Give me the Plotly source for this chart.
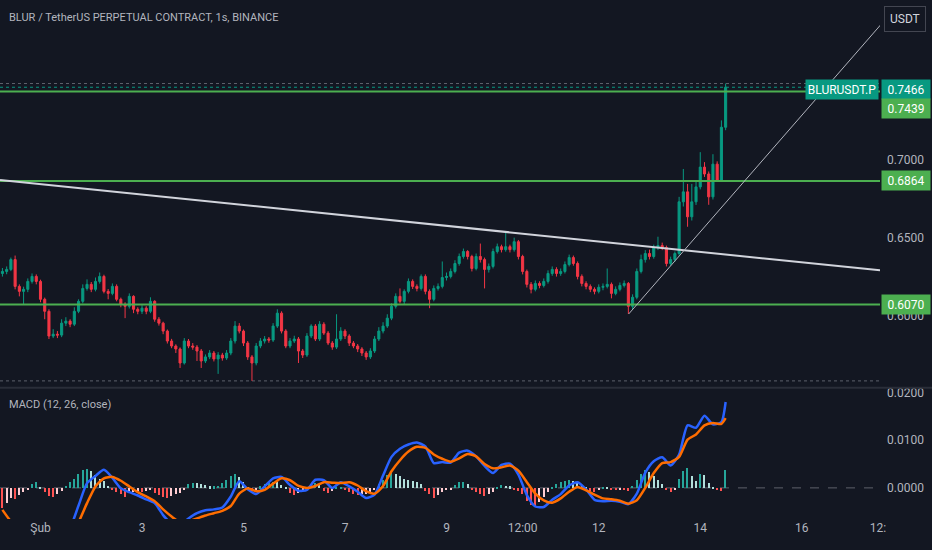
import pandas as pd
import plotly.graph_objects as go

# 2h candles, BLURUSDT.P
times = pd.date_range("2024-01-31 06:00", periods=172, freq="2h")

opens = [
    0.6270, 0.6283, 0.6296, 0.6359, 0.6187, 0.6155, 0.6168, 0.6219, 0.6251, 0.6219, 0.6104, 0.6027,
    0.5868, 0.5880, 0.5874, 0.5951, 0.5964, 0.5944, 0.6027, 0.6091, 0.6174, 0.6200, 0.6168, 0.6219,
    0.6251, 0.6155, 0.6142, 0.6187, 0.6104, 0.6072, 0.6059, 0.6123, 0.6040, 0.6027, 0.6047, 0.6027,
    0.6091, 0.5976, 0.5951, 0.5900, 0.5836, 0.5804, 0.5785, 0.5695, 0.5836, 0.5804, 0.5797, 0.5772,
    0.5708, 0.5734, 0.5759, 0.5721, 0.5746, 0.5727, 0.5759, 0.5836, 0.5932, 0.5900, 0.5823, 0.5734,
    0.5695, 0.5804, 0.5836, 0.5849, 0.5842, 0.5932, 0.6015, 0.5900, 0.5804, 0.5836, 0.5849, 0.5772,
    0.5746, 0.5868, 0.5932, 0.5849, 0.5944, 0.5887, 0.5823, 0.5797, 0.5849, 0.5900, 0.5868, 0.5823,
    0.5804, 0.5785, 0.5759, 0.5734, 0.5772, 0.5849, 0.5900, 0.5932, 0.5983, 0.6059, 0.6123, 0.6091,
    0.6155, 0.6219, 0.6187, 0.6174, 0.6251, 0.6155, 0.6104, 0.6174, 0.6187, 0.6244, 0.6251, 0.6283,
    0.6334, 0.6379, 0.6411, 0.6379, 0.6302, 0.6379, 0.6359, 0.6296, 0.6315, 0.6411, 0.6442, 0.6423,
    0.6442, 0.6423, 0.6474, 0.6379, 0.6283, 0.6200, 0.6168, 0.6206, 0.6193, 0.6219, 0.6270, 0.6296,
    0.6270, 0.6283, 0.6327, 0.6372, 0.6334, 0.6251, 0.6206, 0.6187, 0.6168, 0.6155, 0.6181, 0.6187,
    0.6200, 0.6142, 0.6168, 0.6193, 0.6206, 0.6059, 0.6117, 0.6283, 0.6359, 0.6398, 0.6379, 0.6436,
    0.6449, 0.6436, 0.6334, 0.6359, 0.6398, 0.6730, 0.6794, 0.6634, 0.6730, 0.6826, 0.6953, 0.6909,
    0.6762, 0.6972, 0.6870, 0.7209,
]
highs = [
    0.6305, 0.6315, 0.6372, 0.6385, 0.6200, 0.6185, 0.6238, 0.6270, 0.6264, 0.6230, 0.6115, 0.6040,
    0.5912, 0.5900, 0.5976, 0.5989, 0.5976, 0.6053, 0.6104, 0.6200, 0.6232, 0.6215, 0.6244, 0.6276,
    0.6262, 0.6170, 0.6206, 0.6200, 0.6115, 0.6085, 0.6142, 0.6130, 0.6053, 0.6066, 0.6060, 0.6117,
    0.6098, 0.5990, 0.5960, 0.5910, 0.5850, 0.5815, 0.5795, 0.5855, 0.5849, 0.5823, 0.5810, 0.5785,
    0.5750, 0.5778, 0.5772, 0.5765, 0.5760, 0.5778, 0.5855, 0.5964, 0.5951, 0.5910, 0.5836, 0.5746,
    0.5823, 0.5855, 0.5868, 0.5862, 0.5951, 0.6040, 0.6027, 0.5912, 0.5855, 0.5870, 0.5862, 0.5785,
    0.5887, 0.5944, 0.5945, 0.5964, 0.5957, 0.5900, 0.5836, 0.6008, 0.5925, 0.5912, 0.5880, 0.5836,
    0.5817, 0.5797, 0.5772, 0.5790, 0.5868, 0.5925, 0.5957, 0.6008, 0.6078, 0.6142, 0.6174, 0.6168,
    0.6238, 0.6232, 0.6200, 0.6264, 0.6264, 0.6168, 0.6193, 0.6206, 0.6347, 0.6276, 0.6302, 0.6355,
    0.6398, 0.6430, 0.6420, 0.6390, 0.6398, 0.6462, 0.6372, 0.6334, 0.6430, 0.6462, 0.6455, 0.6538,
    0.6455, 0.6500, 0.6485, 0.6390, 0.6295, 0.6215, 0.6225, 0.6220, 0.6238, 0.6290, 0.6315, 0.6310,
    0.6302, 0.6347, 0.6391, 0.6385, 0.6347, 0.6264, 0.6220, 0.6200, 0.6181, 0.6200, 0.6206, 0.6302,
    0.6212, 0.6187, 0.6212, 0.6225, 0.6215, 0.6136, 0.6302, 0.6391, 0.6420, 0.6423, 0.6455, 0.6506,
    0.6468, 0.6449, 0.6378, 0.6411, 0.6762, 0.6941, 0.6845, 0.6845, 0.6870, 0.7049, 0.6985, 0.6925,
    0.7036, 0.6990, 0.7253, 0.7490,
]
lows = [
    0.6250, 0.6265, 0.6285, 0.6168, 0.6123, 0.6072, 0.6150, 0.6205, 0.6200, 0.6085, 0.5976, 0.5849,
    0.5855, 0.5855, 0.5861, 0.5932, 0.5925, 0.5932, 0.6015, 0.6078, 0.6160, 0.6150, 0.6155, 0.6205,
    0.6142, 0.6104, 0.6130, 0.6091, 0.6053, 0.5983, 0.6045, 0.6015, 0.6008, 0.6010, 0.6008, 0.6015,
    0.5960, 0.5935, 0.5880, 0.5820, 0.5790, 0.5759, 0.5663, 0.5685, 0.5790, 0.5780, 0.5708, 0.5663,
    0.5695, 0.5720, 0.5705, 0.5625, 0.5710, 0.5715, 0.5745, 0.5820, 0.5885, 0.5804, 0.5715, 0.5580,
    0.5680, 0.5790, 0.5820, 0.5825, 0.5830, 0.5920, 0.5885, 0.5790, 0.5790, 0.5823, 0.5695, 0.5727,
    0.5734, 0.5855, 0.5836, 0.5836, 0.5875, 0.5810, 0.5780, 0.5785, 0.5836, 0.5849, 0.5804, 0.5790,
    0.5765, 0.5740, 0.5715, 0.5721, 0.5759, 0.5836, 0.5885, 0.5920, 0.5970, 0.6045, 0.6078, 0.6072,
    0.6142, 0.6170, 0.6155, 0.6160, 0.6136, 0.6047, 0.6091, 0.6160, 0.6174, 0.6225, 0.6238, 0.6270,
    0.6320, 0.6365, 0.6360, 0.6283, 0.6290, 0.6340, 0.6174, 0.6276, 0.6302, 0.6398, 0.6405, 0.6410,
    0.6405, 0.6410, 0.6360, 0.6264, 0.6180, 0.6142, 0.6155, 0.6175, 0.6180, 0.6205, 0.6255, 0.6250,
    0.6255, 0.6270, 0.6315, 0.6320, 0.6232, 0.6187, 0.6168, 0.6150, 0.6136, 0.6142, 0.6162, 0.6174,
    0.6110, 0.6130, 0.6155, 0.6180, 0.6010, 0.6040, 0.6104, 0.6270, 0.6340, 0.6360, 0.6365, 0.6420,
    0.6420, 0.6315, 0.6320, 0.6345, 0.6385, 0.6700, 0.6570, 0.6610, 0.6710, 0.6810, 0.6890, 0.6711,
    0.6745, 0.6858, 0.6858, 0.7190,
]
closes = [
    0.6283, 0.6296, 0.6359, 0.6187, 0.6155, 0.6168, 0.6219, 0.6251, 0.6219, 0.6104, 0.6027, 0.5868,
    0.5880, 0.5874, 0.5951, 0.5964, 0.5944, 0.6027, 0.6091, 0.6174, 0.6200, 0.6168, 0.6219, 0.6251,
    0.6155, 0.6142, 0.6187, 0.6104, 0.6072, 0.6059, 0.6123, 0.6040, 0.6027, 0.6047, 0.6027, 0.6091,
    0.5976, 0.5951, 0.5900, 0.5836, 0.5804, 0.5785, 0.5695, 0.5836, 0.5804, 0.5797, 0.5772, 0.5708,
    0.5734, 0.5759, 0.5721, 0.5746, 0.5727, 0.5759, 0.5836, 0.5932, 0.5900, 0.5823, 0.5734, 0.5695,
    0.5804, 0.5836, 0.5849, 0.5842, 0.5932, 0.6015, 0.5900, 0.5804, 0.5836, 0.5849, 0.5772, 0.5746,
    0.5868, 0.5932, 0.5849, 0.5944, 0.5887, 0.5823, 0.5797, 0.5849, 0.5900, 0.5868, 0.5823, 0.5804,
    0.5785, 0.5759, 0.5734, 0.5772, 0.5849, 0.5900, 0.5932, 0.5983, 0.6059, 0.6123, 0.6091, 0.6155,
    0.6219, 0.6187, 0.6174, 0.6251, 0.6155, 0.6104, 0.6174, 0.6187, 0.6244, 0.6251, 0.6283, 0.6334,
    0.6379, 0.6411, 0.6379, 0.6302, 0.6379, 0.6359, 0.6296, 0.6315, 0.6411, 0.6442, 0.6423, 0.6442,
    0.6423, 0.6474, 0.6379, 0.6283, 0.6200, 0.6168, 0.6206, 0.6193, 0.6219, 0.6270, 0.6296, 0.6270,
    0.6283, 0.6327, 0.6372, 0.6334, 0.6251, 0.6206, 0.6187, 0.6168, 0.6155, 0.6181, 0.6187, 0.6200,
    0.6142, 0.6168, 0.6193, 0.6206, 0.6059, 0.6117, 0.6283, 0.6359, 0.6398, 0.6379, 0.6436, 0.6449,
    0.6436, 0.6334, 0.6359, 0.6398, 0.6730, 0.6794, 0.6634, 0.6730, 0.6826, 0.6953, 0.6909, 0.6762,
    0.6972, 0.6870, 0.7209, 0.7466,
]

# MACD (12, 26, close) histogram, one bar per candle
macd_hist = [
    -0.0042, -0.0032, -0.0020, -0.0022, -0.0015, -0.0008, -0.0003, 0.0008, 0.0012, 0.0002, -0.0008, -0.0016,
    -0.0019, -0.0012, -0.0005, 0.0005, 0.0012, 0.0020, 0.0030, 0.0038, 0.0041, 0.0035, 0.0028, 0.0020,
    0.0014, 0.0005, -0.0003, -0.0008, -0.0012, -0.0018, -0.0010, -0.0008, -0.0006, -0.0009, -0.0006, -0.0004,
    -0.0010, -0.0014, -0.0018, -0.0020, -0.0017, -0.0012, -0.0010, -0.0003, 0.0008, 0.0011, 0.0010, 0.0009,
    0.0007, 0.0004, 0.0004, 0.0005, 0.0010, 0.0018, 0.0025, 0.0030, 0.0024, 0.0012, 0.0002, -0.0006,
    -0.0004, 0.0004, 0.0008, 0.0011, 0.0013, 0.0012, 0.0007, 0.0002, -0.0010, -0.0015, -0.0010, -0.0006,
    0.0003, 0.0008, 0.0010, 0.0006, -0.0005, -0.0010, -0.0006, 0.0002, 0.0003, -0.0004, -0.0008, -0.0012,
    -0.0014, -0.0013, -0.0012, -0.0008, -0.0003, 0.0008, 0.0018, 0.0027, 0.0033, 0.0030, 0.0025, 0.0020,
    0.0018, 0.0015, 0.0012, 0.0008, -0.0005, -0.0012, -0.0020, -0.0014, -0.0008, -0.0004, -0.0002, 0.0006,
    0.0012, 0.0013, 0.0008, -0.0004, -0.0008, -0.0013, -0.0017, -0.0012, -0.0008, 0.0003, 0.0006, 0.0005,
    0.0004, -0.0002, -0.0005, -0.0012, -0.0026, -0.0036, -0.0040, -0.0030, -0.0018, -0.0008, 0.0003, 0.0008,
    0.0012, 0.0014, 0.0016, 0.0014, 0.0010, 0.0005, 0.0002, -0.0005, -0.0008, -0.0004, 0.0003, 0.0002,
    -0.0003, -0.0004, -0.0002, -0.0003, -0.0007, 0.0005, 0.0018, 0.0030, 0.0037, 0.0033, 0.0025, 0.0016,
    0.0008, -0.0004, -0.0008, -0.0004, 0.0020, 0.0035, 0.0042, 0.0025, 0.0014, 0.0030, 0.0028, 0.0010,
    0.0003, -0.0004, -0.0006, 0.0037,
]

# MACD and signal lines, read every second candle plus the last one
line_idx = list(range(0, 172, 2)) + [171]
macd_line = [
    -0.0088, -0.0095, -0.0100, -0.0095, -0.0095, -0.0108, -0.0118, -0.0112, -0.0085, -0.0037,
    0.0010, 0.0025, 0.0038, 0.0021, -0.0001, -0.0009, -0.0016, -0.0024, -0.0032, -0.0057,
    -0.0075, -0.0078, -0.0064, -0.0053, -0.0047, -0.0045, -0.0041, -0.0018, 0.0014, -0.0003,
    -0.0013, 0.0003, 0.0020, 0.0023, 0.0006, -0.0006, -0.0004, 0.0017, 0.0016, 0.0000,
    0.0012, 0.0003, -0.0008, -0.0021, -0.0014, 0.0026, 0.0065, 0.0082, 0.0091, 0.0095,
    0.0087, 0.0052, 0.0054, 0.0053, 0.0074, 0.0078, 0.0066, 0.0046, 0.0031, 0.0048,
    0.0051, 0.0028, -0.0015, -0.0039, -0.0040, -0.0025, -0.0013, 0.0005, 0.0012, -0.0003,
    -0.0025, -0.0028, -0.0027, -0.0029, -0.0034, -0.0012, 0.0032, 0.0056, 0.0064, 0.0047,
    0.0070, 0.0131, 0.0126, 0.0151, 0.0133, 0.0138, 0.0180,
]
signal_line = [
    -0.0046, -0.0070, -0.0085, -0.0093, -0.0098, -0.0102, -0.0108, -0.0110, -0.0102, -0.0072,
    -0.0032, 0.0003, 0.0020, 0.0023, 0.0015, 0.0003, -0.0009, -0.0018, -0.0028, -0.0045,
    -0.0060, -0.0072, -0.0070, -0.0064, -0.0058, -0.0053, -0.0048, -0.0038, -0.0012, -0.0001,
    -0.0007, -0.0004, 0.0009, 0.0020, 0.0016, 0.0004, 0.0000, 0.0004, 0.0012, 0.0011,
    0.0010, 0.0012, 0.0005, -0.0007, -0.0012, 0.0004, 0.0035, 0.0058, 0.0076, 0.0086,
    0.0084, 0.0070, 0.0061, 0.0055, 0.0062, 0.0071, 0.0066, 0.0050, 0.0041, 0.0043,
    0.0047, 0.0036, 0.0012, -0.0012, -0.0026, -0.0031, -0.0022, -0.0008, 0.0002, -0.0005,
    -0.0014, -0.0022, -0.0024, -0.0027, -0.0033, -0.0026, 0.0000, 0.0031, 0.0052, 0.0054,
    0.0065, 0.0101, 0.0112, 0.0131, 0.0136, 0.0134, 0.0146,
]

# drawings
levels = [0.7439, 0.6864, 0.6070]
trend_down = (["2024-01-31 04:51", "2024-02-17 13:00"], [0.6870, 0.6290])
trend_up = (["2024-02-12 14:10", "2024-02-17 13:50"], [0.6010, 0.7875])

price_ticks = [0.6000, 0.6500, 0.7000]
macd_ticks = [0.0000, 0.0100, 0.0200]
date_ticks = ["2024-02-01", "2024-02-03", "2024-02-05", "2024-02-07", "2024-02-09",
              "2024-02-10 12:00", "2024-02-12", "2024-02-14", "2024-02-16", "2024-02-17 12:00"]
date_labels = ["Şub", "3", "5", "7", "9", "12:00", "12", "14", "16", "12:"]

BG = "#131722"
TXT = "#B2B5BE"
UP = "#089981"
DOWN = "#F23645"
LVL = "#4CAF50"
FONT = "Roboto"

# histogram colours, TradingView style
hist_colors = []
prev = 0
for v in macd_hist:
    if v >= 0:
        hist_colors.append("#26A69A" if v >= prev else "#B2DFDB")
    else:
        hist_colors.append("#FF5252" if v <= prev else "#FFCDD2")
    prev = v

fig = go.Figure()
fig.add_trace(go.Candlestick(
    x=times, open=opens, high=highs, low=lows, close=closes,
    increasing=dict(line=dict(color=UP, width=1), fillcolor=UP),
    decreasing=dict(line=dict(color=DOWN, width=1), fillcolor=DOWN),
    whiskerwidth=0, hoverinfo="skip", xaxis="x", yaxis="y",
))
fig.add_trace(go.Bar(
    x=times, y=macd_hist, marker=dict(color=hist_colors, line=dict(width=0)),
    width=2.2e6, hoverinfo="skip", xaxis="x", yaxis="y2",
))
line_x = [times[i] for i in line_idx]
fig.add_trace(go.Scatter(x=line_x, y=macd_line, mode="lines",
                         line=dict(color="#2962FF", width=2.5, shape="spline", smoothing=0.6),
                         hoverinfo="skip", xaxis="x", yaxis="y2"))
fig.add_trace(go.Scatter(x=line_x, y=signal_line, mode="lines",
                         line=dict(color="#FF6D00", width=2.5, shape="spline", smoothing=0.6),
                         hoverinfo="skip", xaxis="x", yaxis="y2"))

shapes = []
# visible high / low and last price
for yv, col in [(max(highs), "#5D606B"), (min(lows), "#5D606B"), (closes[-1], UP)]:
    shapes.append(dict(type="line", xref="paper", x0=0, x1=1, yref="y", y0=yv, y1=yv,
                       line=dict(color=col, width=1, dash="dot"), layer="below"))
for lv in levels:
    shapes.append(dict(type="line", xref="paper", x0=0, x1=1, yref="y", y0=lv, y1=lv,
                       line=dict(color=LVL, width=2)))
shapes.append(dict(type="line", xref="x", yref="y", x0=trend_down[0][0], x1=trend_down[0][1],
                   y0=trend_down[1][0], y1=trend_down[1][1], line=dict(color="#D1D4DC", width=2)))
shapes.append(dict(type="line", xref="x", yref="y", x0=trend_up[0][0], x1=trend_up[0][1],
                   y0=trend_up[1][0], y1=trend_up[1][1], line=dict(color="#B2B5BE", width=1)))
shapes.append(dict(type="line", xref="paper", x0=0, x1=1, yref="y2", y0=0, y1=0,
                   line=dict(color="#5D606B", width=1, dash="dash"), layer="below"))
# pane separator
shapes.append(dict(type="line", xref="paper", x0=0, x1=1.06, yref="paper", y0=0.2543, y1=0.2543,
                   line=dict(color="#2A2E39", width=2)))

annotations = [
    dict(text="BLUR / TetherUS PERPETUAL CONTRACT, 1s, BINANCE", xref="paper", yref="paper",
         x=0.008, y=0.971, xanchor="left", yanchor="middle", showarrow=False,
         font=dict(family=FONT, size=11, color=TXT)),
    dict(text="MACD (12, 26, close)", xref="paper", yref="paper",
         x=0.008, y=0.2216, xanchor="left", yanchor="middle", showarrow=False,
         font=dict(family=FONT, size=11, color=TXT)),
    dict(text="USDT", xref="paper", yref="paper", x=1.0285, y=0.969, xanchor="center",
         yanchor="middle", showarrow=False, bgcolor=BG, bordercolor="#434651", borderwidth=1,
         borderpad=5, font=dict(family=FONT, size=12, color="#D1D4DC")),
    dict(text="BLURUSDT.P", xref="paper", yref="y", x=1, y=closes[-1], xanchor="right",
         yanchor="middle", xshift=-1, yshift=-2, showarrow=False, bgcolor=UP, width=70, height=17,
         font=dict(family=FONT, size=12, color="white")),
    dict(text=f"{closes[-1]:.4f}", xref="paper", yref="y", x=1, y=closes[-1], xanchor="left",
         yanchor="middle", xshift=1, yshift=-2, showarrow=False, bgcolor=UP, width=46, height=17,
         font=dict(family=FONT, size=12, color="white")),
]
shifts = [-17, 0, 0]
for lv, sh in zip(levels, shifts):
    annotations.append(dict(text=f"{lv:.4f}", xref="paper", yref="y", x=1, y=lv, xanchor="left",
                            yanchor="middle", xshift=1, yshift=sh, showarrow=False, bgcolor=LVL,
                            width=46, height=17, font=dict(family=FONT, size=12, color="white")))

fig.update_layout(
    width=932, height=550,
    margin=dict(l=0, r=52, t=0, b=31),
    paper_bgcolor=BG, plot_bgcolor=BG,
    showlegend=False, bargap=0,
    font=dict(family=FONT, size=12, color=TXT),
    xaxis=dict(anchor="y2", range=["2024-01-31 04:51", "2024-02-17 13:00"],
               rangeslider=dict(visible=False), showgrid=False, zeroline=False,
               tickvals=date_ticks, ticktext=date_labels, ticks="",
               tickfont=dict(family=FONT, size=12, color=TXT)),
    yaxis=dict(domain=[0.2543, 1], range=[0.55358, 0.80070], side="right",
               showgrid=False, zeroline=False, tickvals=price_ticks,
               ticktext=[f"{v:.4f}" for v in price_ticks], ticks="", ticklabelstandoff=6,
               tickfont=dict(family=FONT, size=12, color=TXT)),
    yaxis2=dict(domain=[0, 0.2524], range=[-0.00652, 0.02077], side="right",
                showgrid=False, zeroline=False, tickvals=macd_ticks,
                ticktext=[f"{v:.4f}" for v in macd_ticks], ticks="", ticklabelstandoff=6,
                tickfont=dict(family=FONT, size=12, color=TXT)),
    shapes=shapes,
    annotations=annotations,
)

# page has a default 8px body margin; drop it so the figure fills the window
fig.write_html("out.html", config={"displayModeBar": False},
               post_script="document.body.style.margin='0';")
